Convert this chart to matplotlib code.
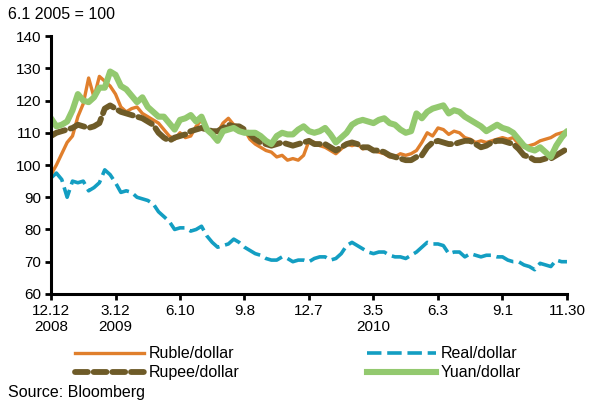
import numpy as np
import matplotlib.pyplot as plt
from matplotlib.lines import Line2D

plt.rcParams['font.family'] = ['Liberation Sans', 'DejaVu Sans']

# tick labels (month.day, year below where it changes)
tick_labels = ["12.12\n2008", "3.12\n2009", "6.10", "9.8", "12.7",
               "3.5\n2010", "6.3", "9.1", "11.30"]

# exchange rates indexed to 6.1 2005 = 100, weekly samples
ruble = [97, 100, 103.5, 107, 109, 115, 119, 127, 121, 127.5,
         126, 124.5, 122, 118, 116.5, 117.5, 118, 116, 115, 114,
         113, 111, 109, 108, 110, 108.5, 109, 112, 114, 111,
         110.5, 110, 113, 114.5, 112.5, 112, 111, 108, 106.5, 105.5,
         104.5, 104, 102.5, 103, 101.5, 102, 101.5, 103, 107.5, 107,
         106, 105.5, 104.5, 103.5, 105, 106.5, 106, 106.5, 105, 105.5,
         104.5, 104, 103.5, 102.5, 102.5, 103.5, 103, 103.5, 104.5, 107,
         110, 109, 111.5, 111, 109.5, 110.5, 110, 108.5, 108, 107,
         107.5, 107, 107.5, 108, 108.5, 108, 108.5, 106.5, 105.5, 106,
         106.5, 107.5, 108, 108.5, 109.5, 110, 110.5]

real = [96, 97.5, 95.5, 90, 95, 94.5, 95, 92, 93, 94.5,
        98.5, 97, 94.5, 91.5, 92, 91.5, 90, 89.5, 89, 88,
        85.5, 84, 82.5, 80, 80.5, 80.5, 79.5, 80, 81, 78,
        76, 74.5, 75, 75.5, 77, 76, 74.5, 73.5, 72.5, 72,
        71, 70.5, 70.5, 71.5, 71, 70, 70.5, 70.5, 70, 71,
        71.5, 71.5, 70.5, 71, 72.5, 75, 76, 75, 74, 73,
        72.5, 73, 73, 72, 71.5, 71.5, 71, 72, 73, 74.5,
        76, 75.5, 75.5, 75, 72.5, 73, 73, 71.5, 72.5, 72,
        71.5, 72, 72, 71.5, 71.5, 70.5, 70, 70, 69, 68.5,
        67.5, 69.5, 69, 68.5, 70.5, 70, 70]

rupee = [109, 110, 110.5, 111, 111.5, 112.5, 112, 111.5, 112, 113,
         117.5, 118.5, 117.5, 116.5, 116, 115.5, 115, 114.5, 113.5, 112.5,
         110, 108.5, 107.5, 108.5, 109, 109.5, 110.5, 111, 111.5, 111,
         110.5, 110.5, 111.5, 112.5, 112, 112, 111, 109.5, 108, 107,
         106.5, 106, 106.5, 107, 106.5, 106, 106.5, 107, 107.5, 106.5,
         106.5, 106.5, 105.5, 104.5, 105.5, 106.5, 107, 106.5, 105.5, 105.5,
         104.5, 104.5, 104, 103, 102.5, 102, 101.5, 101.5, 102.5, 103,
         105.5, 107, 107.5, 107, 106.5, 106.5, 107, 107.5, 107.5, 106.5,
         105.5, 106, 107, 107.5, 107.5, 107, 106.5, 105, 103, 102.5,
         101.5, 101.5, 102, 102, 103, 104, 105]

yuan = [114.5, 112, 112.5, 113.5, 117, 122, 120, 119.5, 121, 124,
        124, 129, 128, 124.5, 123.5, 121.5, 119.5, 121, 118, 116.5,
        115, 115, 113, 111, 114, 114.5, 115.5, 113.5, 115, 111,
        109.5, 107.5, 110.5, 111, 111.5, 110.5, 110, 110, 110, 109,
        107.5, 106.5, 109, 110, 109.5, 109.5, 111, 112, 110.5, 110,
        110.5, 111.5, 109.5, 107, 108.5, 110, 112.5, 113.5, 114, 113.5,
        113, 114, 114.5, 113, 112.5, 111, 110, 110.5, 116, 114.5,
        116.5, 117.5, 118, 118.5, 116, 117, 116.5, 115, 114, 113,
        112, 110.5, 111.5, 112.5, 111.5, 111, 110, 108, 106, 105,
        104.5, 105.5, 104, 102.5, 106, 108.5, 110.5]

x = np.arange(len(ruble))
tick_pos = np.linspace(0, len(ruble) - 1, len(tick_labels))

c_ruble = '#E07F2C'
c_real = '#139EC2'
c_rupee = '#6E5B28'
c_yuan = '#93C96F'

fig = plt.figure(figsize=(5.89, 4.01), dpi=100)
ax = fig.add_axes([0.0866, 0.267, 0.876, 0.643])

ax.plot(x, real, color=c_real, lw=2.6, dashes=(5, 1.6), solid_capstyle='round')
ax.plot(x, ruble, color=c_ruble, lw=2.4)
ax.plot(x, rupee, color=c_rupee, lw=4.2, dashes=(2.6, 1.0), dash_capstyle='round')
ax.plot(x, yuan, color=c_yuan, lw=4.4, solid_capstyle='round')

ax.set_xlim(0, len(ruble) - 1)
ax.set_ylim(60, 140)
ax.set_yticks(range(60, 141, 10))
ax.set_xticks(tick_pos)
ax.set_xticklabels(tick_labels, linespacing=1.2)

for s in ['top', 'right']:
    ax.spines[s].set_visible(False)
for s in ['left', 'bottom']:
    ax.spines[s].set_linewidth(2.2)
ax.tick_params(axis='both', direction='out', length=4, width=2, labelsize=11, pad=3)

fig.text(0.013, 0.963, "6.1 2005 = 100", fontsize=11.5, va='center', ha='left')
fig.text(0.013, 0.022, "Source: Bloomberg", fontsize=11.5, va='center', ha='left')

handles = [
    Line2D([], [], color=c_ruble, lw=2.4),
    Line2D([], [], color=c_real, lw=2.6, dashes=(4, 1.6)),
    Line2D([], [], color=c_rupee, lw=4.2, dashes=(2.2, 1.0), dash_capstyle='round'),
    Line2D([], [], color=c_yuan, lw=4.4),
]
labels = ["Ruble/dollar", "Real/dollar", "Rupee/dollar", "Yuan/dollar"]
order = [0, 2, 1, 3]
fig.legend([handles[i] for i in order], [labels[i] for i in order],
           ncol=2, loc='upper left', bbox_to_anchor=(0.128, 0.136), frameon=False,
           fontsize=11.5, handlelength=4.3, handletextpad=0.3,
           columnspacing=8.0, labelspacing=0.25, borderpad=0, borderaxespad=0)

fig.savefig("out.png", dpi=100)
